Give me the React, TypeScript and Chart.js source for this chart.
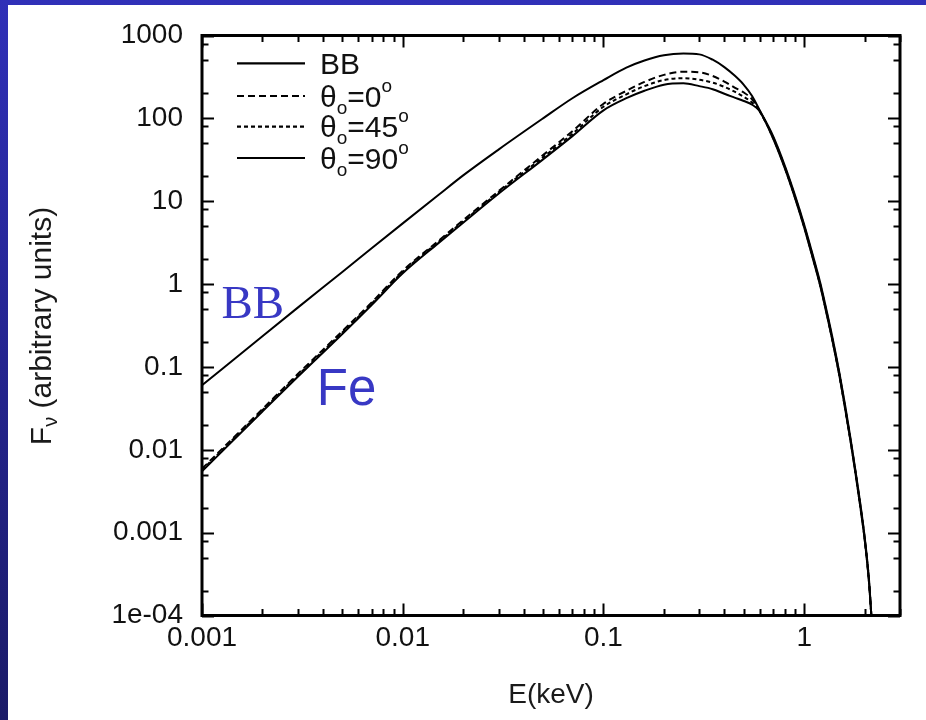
import React, { useEffect, useRef } from "react";
import { Chart, registerables } from "chart.js";

Chart.register(...registerables);

// ---------------- data ----------------
const energyKeV = [
  0.001, 0.002, 0.003, 0.005, 0.007, 0.01, 0.015, 0.02, 0.03, 0.05, 0.07, 0.1,
  0.13, 0.16, 0.2, 0.25, 0.3, 0.35, 0.4, 0.45, 0.5, 0.55, 0.6, 0.7, 0.8, 0.9,
  1.0, 1.1, 1.2, 1.3, 1.4, 1.5, 1.6, 1.7, 1.8, 1.9, 2.0, 2.1, 2.16,
];

const fluxBB = [
  0.06, 0.235, 0.52, 1.4, 2.7, 5.4, 11.8, 20.5, 42, 100, 175, 290,
  410, 500, 578, 605, 592, 510, 415, 328, 254, 186, 125, 61, 27, 11.8,
  5.2, 2.3, 1.05, 0.45, 0.195, 0.083, 0.034, 0.0138, 0.0056, 0.0023, 0.00089, 0.00028, 0.0001,
];

const fluxFe0 = [
  0.0059, 0.031, 0.082, 0.27, 0.6, 1.45, 3.3, 5.9, 13.2, 36, 70, 150,
  215, 275, 335, 365, 360, 325, 278, 235, 205, 170, 123, 59, 26, 11.3,
  5.0, 2.2, 1.0, 0.43, 0.185, 0.079, 0.032, 0.0132, 0.0054, 0.0022, 0.00086, 0.00027, 0.0001,
];

const fluxFe45 = [
  0.0057, 0.03, 0.079, 0.26, 0.58, 1.4, 3.2, 5.7, 12.8, 34, 65, 138,
  195, 245, 290, 305, 292, 270, 240, 210, 182, 155, 121, 58, 25.5, 11.1,
  4.9, 2.15, 0.98, 0.42, 0.18, 0.077, 0.031, 0.013, 0.0053, 0.0021, 0.00084, 0.00026, 0.0001,
];

const fluxFe90 = [
  0.0055, 0.029, 0.076, 0.25, 0.56, 1.35, 3.1, 5.5, 12.3, 32, 61, 125,
  175, 215, 255, 265, 245, 225, 198, 178, 162, 146, 122, 57, 25, 10.9,
  4.8, 2.1, 0.96, 0.41, 0.178, 0.076, 0.031, 0.0128, 0.0052, 0.0021, 0.00083, 0.00026, 0.0001,
];

const seriesLabels = ["BB", "θo=0°", "θo=45°", "θo=90°"];
const legendMain = ["BB", "θ", "θ", "θ"];
const legendSub = ["", "o", "o", "o"];
const legendRest = ["", "=0", "=45", "=90"];
const legendSup = ["", "o", "o", "o"];

const xTickValues = [0.001, 0.01, 0.1, 1];
const xTickLabels = ["0.001", "0.01", "0.1", "1"];
const yTickValues = [0.0001, 0.001, 0.01, 0.1, 1, 10, 100, 1000];
const yTickLabels = ["1e-04", "0.001", "0.01", "0.1", "1", "10", "100", "1000"];
const xMinorFactors = [2, 3, 4, 5, 6, 7, 8, 9];
const yMinorFactors = [2, 5, 8];

const X_MIN = 0.001;
const X_MAX = 3;
const Y_MIN = 0.0001;
const Y_MAX = 1000;

const FONT = '"Liberation Sans", Arial, Helvetica, sans-serif';
const SERIF = '"Liberation Serif", "Times New Roman", serif';
const BLUE = "#3838c4";

type Piece = { text: string; size: number; dy: number; family?: string };

function drawPieces(ctx: CanvasRenderingContext2D, pieces: Piece[], x: number, y: number, align: "left" | "center") {
  let total = 0;
  const widths: number[] = [];
  for (const p of pieces) {
    ctx.font = `${p.size}px ${p.family || FONT}`;
    const w = ctx.measureText(p.text).width;
    widths.push(w);
    total += w;
  }
  let cx = align === "center" ? x - total / 2 : x;
  pieces.forEach((p, i) => {
    ctx.font = `${p.size}px ${p.family || FONT}`;
    ctx.fillText(p.text, cx, y + p.dy);
    cx += widths[i];
  });
}

const decorPlugin = {
  id: "decor",
  afterDraw(chart: any) {
    const { ctx, chartArea: a, scales } = chart;
    const xs = scales.x;
    const ys = scales.y;
    ctx.save();
    ctx.strokeStyle = "#000";
    ctx.fillStyle = "#000";
    ctx.setLineDash([]);

    // ticks (inward, mirrored on all sides)
    ctx.lineWidth = 2;
    const majorLen = 12;
    const minorLen = 6.5;
    const xTicks: { v: number; len: number }[] = [];
    xTickValues.forEach((v) => {
      xTicks.push({ v, len: majorLen });
      xMinorFactors.forEach((f) => xTicks.push({ v: v * f, len: minorLen }));
    });
    xTicks.forEach((t) => {
      if (t.v < X_MIN || t.v > X_MAX * 1.0001) return;
      const px = Math.round(xs.getPixelForValue(t.v)) + 0.5;
      ctx.beginPath();
      ctx.moveTo(px, a.bottom);
      ctx.lineTo(px, a.bottom - t.len);
      ctx.moveTo(px, a.top);
      ctx.lineTo(px, a.top + t.len);
      ctx.stroke();
    });
    const yTicks: { v: number; len: number }[] = [];
    yTickValues.forEach((v) => {
      yTicks.push({ v, len: majorLen });
      yMinorFactors.forEach((f) => yTicks.push({ v: v * f, len: minorLen }));
    });
    yTicks.forEach((t) => {
      if (t.v < Y_MIN || t.v > Y_MAX * 1.0001) return;
      const py = Math.round(ys.getPixelForValue(t.v)) + 0.5;
      ctx.beginPath();
      ctx.moveTo(a.left, py);
      ctx.lineTo(a.left + t.len, py);
      ctx.moveTo(a.right, py);
      ctx.lineTo(a.right - t.len, py);
      ctx.stroke();
    });

    // frame
    ctx.lineWidth = 3;
    ctx.strokeRect(a.left, a.top, a.right - a.left, a.bottom - a.top);

    // legend
    const rowOffsets = [27.8, 60.5, 91.2, 122.5];
    chart.data.datasets.forEach((ds: any, i: number) => {
      const ry = a.top + rowOffsets[i];
      ctx.lineWidth = 2.2;
      ctx.setLineDash(ds.borderDash || []);
      ctx.beginPath();
      ctx.moveTo(a.left + 35, ry);
      ctx.lineTo(a.left + 103, ry);
      ctx.stroke();
      ctx.setLineDash([]);
      ctx.textBaseline = "alphabetic";
      ctx.textAlign = "left";
      ctx.fillStyle = "#111";
      const pieces: Piece[] = [{ text: legendMain[i], size: 30, dy: 0 }];
      if (legendSub[i]) pieces.push({ text: legendSub[i], size: 19, dy: 7 });
      if (legendRest[i]) pieces.push({ text: legendRest[i], size: 30, dy: 0 });
      if (legendSup[i]) pieces.push({ text: legendSup[i], size: 19, dy: -15 });
      drawPieces(ctx, pieces, a.left + 118, ry + 10.5, "left");
    });

    // axis titles
    ctx.fillStyle = "#1a1a1a";
    ctx.textAlign = "left";
    ctx.textBaseline = "alphabetic";
    drawPieces(ctx, [{ text: "E(keV)", size: 28, dy: 0 }], (a.left + a.right) / 2, 698, "center");

    ctx.save();
    ctx.translate(43, 321);
    ctx.rotate(-Math.PI / 2);
    drawPieces(
      ctx,
      [
        { text: "F", size: 30, dy: 0 },
        { text: "ν", size: 20, dy: 6 },
        { text: " (arbitrary units)", size: 30, dy: 0 },
      ],
      0,
      0,
      "center"
    );
    ctx.restore();

    // annotations
    ctx.fillStyle = BLUE;
    ctx.textAlign = "left";
    ctx.textBaseline = "alphabetic";
    ctx.font = `47px ${SERIF}`;
    ctx.fillText("BB", xs.getPixelForValue(0.00125), ys.getPixelForValue(0.386));
    ctx.font = `51px ${FONT}`;
    ctx.fillText("Fe", xs.getPixelForValue(0.00373), ys.getPixelForValue(0.0347));

    ctx.restore();
  },
};

export default function App() {
  const ref = useRef<HTMLCanvasElement>(null);

  useEffect(() => {
    const canvas = ref.current;
    if (!canvas) return;
    const seriesValues = [fluxBB, fluxFe0, fluxFe45, fluxFe90];
    const dashes = [[], [7, 4], [4, 3], []];
    const chart = new Chart(canvas, {
      type: "line",
      data: {
        datasets: seriesValues.map((vals, i) => ({
          label: seriesLabels[i],
          data: energyKeV.map((e, j) => ({ x: e, y: vals[j] })),
          borderColor: "#000",
          borderWidth: 2,
          borderDash: dashes[i],
          pointRadius: 0,
          fill: false,
          cubicInterpolationMode: "monotone",
        })),
      },
      options: {
        responsive: false,
        devicePixelRatio: 1,
        animation: false,
        layout: { padding: { top: 30.5, right: 26, left: 0, bottom: 0 } },
        plugins: { legend: { display: false }, tooltip: { enabled: false } },
        scales: {
          x: {
            type: "logarithmic",
            min: X_MIN,
            max: X_MAX,
            grid: { display: false, drawTicks: false },
            border: { display: false },
            afterBuildTicks: (s: any) => {
              s.ticks = xTickValues.map((v) => ({ value: v }));
            },
            afterFit: (s: any) => {
              s.height = 104.5;
              s.paddingLeft = 0;
              s.paddingRight = 0;
              s.paddingTop = 0;
              s.paddingBottom = 0;
            },
            ticks: {
              callback: (_v: any, i: number) => xTickLabels[i],
              font: { family: FONT, size: 28 },
              color: "#111",
              padding: 6,
              maxRotation: 0,
              autoSkip: false,
            },
          },
          y: {
            type: "logarithmic",
            min: Y_MIN,
            max: Y_MAX,
            grid: { display: false, drawTicks: false },
            border: { display: false },
            afterBuildTicks: (s: any) => {
              s.ticks = yTickValues.map((v) => ({ value: v }));
            },
            afterFit: (s: any) => {
              s.width = 194;
              s.paddingLeft = 0;
              s.paddingRight = 0;
              s.paddingTop = 0;
              s.paddingBottom = 0;
            },
            ticks: {
              callback: (_v: any, i: number) => yTickLabels[i],
              font: { family: FONT, size: 28 },
              color: "#111",
              padding: 19,
              autoSkip: false,
            },
          },
        },
      } as any,
      plugins: [decorPlugin],
    });
    return () => chart.destroy();
  }, []);

  return (
    <div
      style={{
        position: "fixed",
        left: 0,
        top: 0,
        width: 926,
        height: 720,
        background: "linear-gradient(180deg, #3030b8 0%, #24248f 50%, #1b1b68 100%)",
      }}
    >
      <div style={{ position: "absolute", left: 8, top: 5, width: 918, height: 715, background: "#fff" }}>
        <canvas ref={ref} width={918} height={715} style={{ display: "block", width: 918, height: 715 }} />
      </div>
    </div>
  );
}
